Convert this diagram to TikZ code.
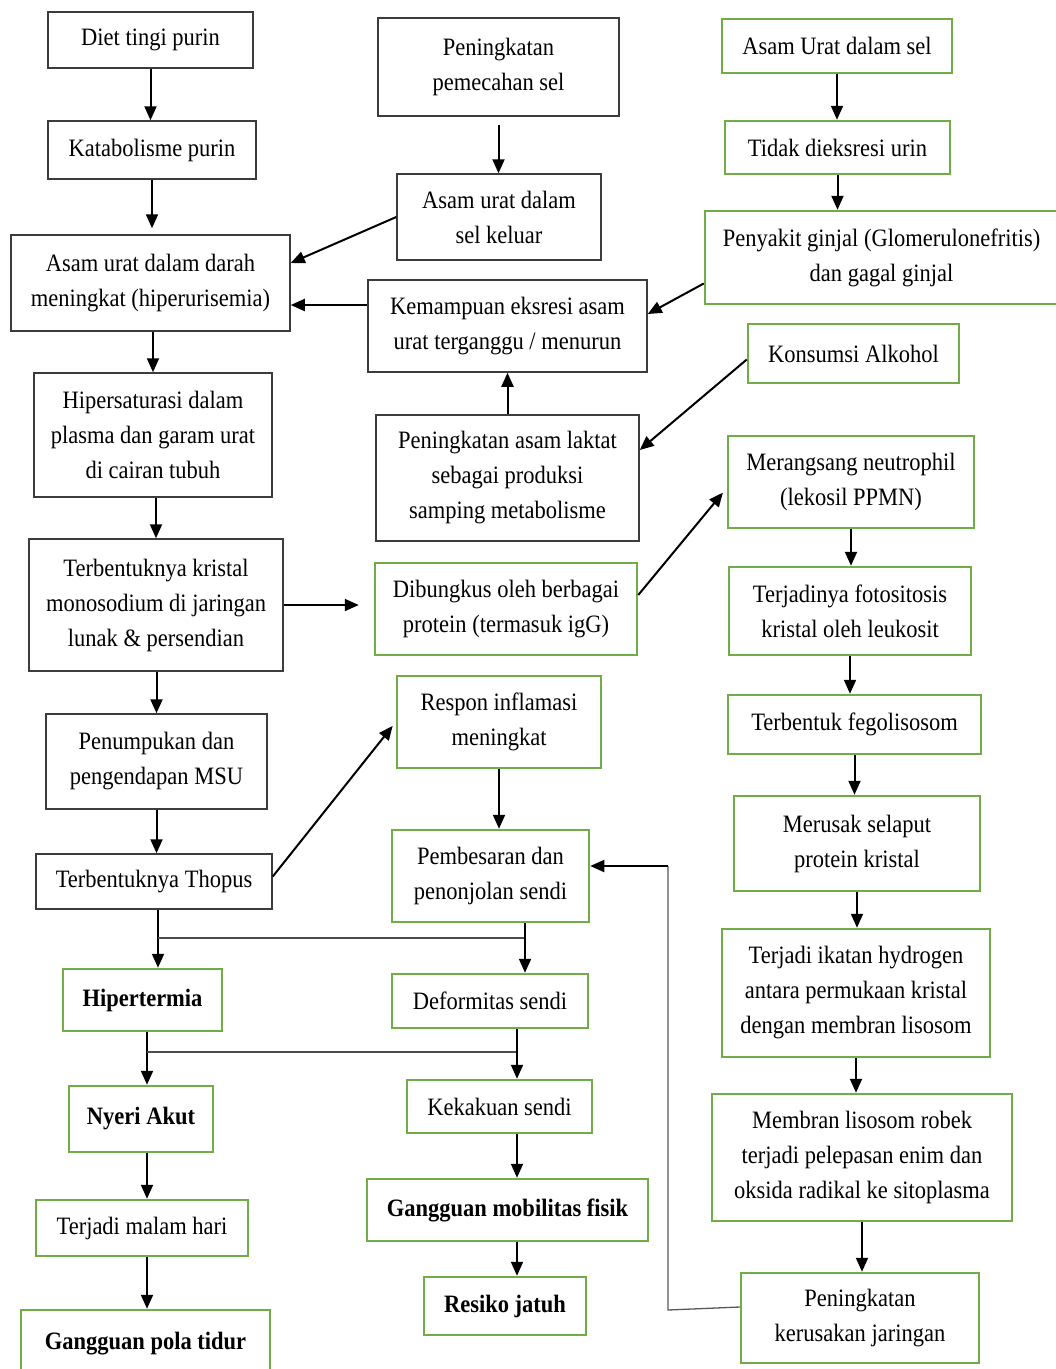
\documentclass[tikz,border=0pt]{standalone}
\usepackage{fontspec}
\setmainfont[FakeStretch=0.9]{Liberation Serif}
\usetikzlibrary{arrows.meta}
\definecolor{boxgreen}{RGB}{112,173,71}
\definecolor{boxgray}{RGB}{60,60,60}
\begin{document}
\begin{tikzpicture}[x=1pt,y=-1pt,
  font=\fontsize{25}{35}\selectfont,
  bbox/.style={draw=boxgray, line width=1.5pt, align=center, inner sep=0pt},
  gbox/.style={draw=boxgreen, line width=2.5pt, align=center, inner sep=0pt},
  arr/.style={-{Triangle[length=14pt,width=12pt]}, line width=2pt, black},
  link/.style={line width=2pt, draw=black!70},
  thinlink/.style={line width=1.3pt, draw=black!65}]
\useasboundingbox (0,0) rectangle (1056,1369);
\clip (0,0) rectangle (1056,1369);
% left column
\node[bbox, minimum width=205pt, minimum height=56pt] (diet) at (150.5,40) {Diet tingi purin};
\node[bbox, minimum width=208pt, minimum height=58pt] (katab) at (152,150) {Katabolisme purin};
\node[bbox, minimum width=279pt, minimum height=96pt] (darah) at (150.5,283) {Asam urat dalam darah\\meningkat (hiperurisemia)};
\node[bbox, minimum width=238pt, minimum height=124pt] (hiper) at (153,435) {Hipersaturasi dalam\\plasma dan garam urat\\di cairan tubuh};
\node[bbox, minimum width=254pt, minimum height=132pt] (kristal) at (156,605) {Terbentuknya kristal\\monosodium di jaringan\\lunak \& persendian};
\node[bbox, minimum width=221pt, minimum height=95pt] (penum) at (156.5,761.5) {Penumpukan dan\\pengendapan MSU};
\node[bbox, minimum width=236pt, minimum height=55pt] (thopus) at (154,881.5) {Terbentuknya Thopus};
\node[gbox, minimum width=159pt, minimum height=62pt] (hipert) at (142.5,1000) {\textbf{Hipertermia}};
\node[gbox, minimum width=144pt, minimum height=66pt] (nyeri) at (141,1119) {\textbf{Nyeri Akut}};
\node[gbox, minimum width=212pt, minimum height=56pt] (malam) at (142,1228) {Terjadi malam hari};
\node[gbox, minimum width=249pt, minimum height=68pt] (pola) at (145.5,1344) {\textbf{Gangguan pola tidur}};
% middle column
\node[bbox, minimum width=241pt, minimum height=98pt] (pecah) at (498.5,67) {Peningkatan\\pemecahan sel};
\node[bbox, minimum width=204pt, minimum height=86pt] (keluar) at (499,217) {Asam urat dalam\\sel keluar};
\node[bbox, minimum width=279pt, minimum height=92pt] (kemamp) at (507.5,326) {Kemampuan eksresi asam\\urat terganggu / menurun};
\node[bbox, minimum width=263pt, minimum height=126pt] (laktat) at (507.5,478) {Peningkatan asam laktat\\sebagai produksi\\samping metabolisme};
\node[gbox, minimum width=262pt, minimum height=92pt] (bungkus) at (506,609) {Dibungkus oleh berbagai\\protein (termasuk igG)};
\node[gbox, minimum width=204pt, minimum height=92pt] (respon) at (499,722) {Respon inflamasi\\meningkat};
\node[gbox, minimum width=197pt, minimum height=92pt] (besar) at (490.5,876) {Pembesaran dan\\penonjolan sendi};
\node[gbox, minimum width=196pt, minimum height=54pt] (deform) at (490,1001) {Deformitas sendi};
\node[gbox, minimum width=185pt, minimum height=53pt] (kaku) at (499.5,1106.5) {Kekakuan sendi};
\node[gbox, minimum width=281pt, minimum height=62pt] (mobil) at (507.5,1210) {\textbf{Gangguan mobilitas fisik}};
\node[gbox, minimum width=162pt, minimum height=58pt] (resiko) at (505,1306) {\textbf{Resiko jatuh}};
% right column
\node[gbox, minimum width=230pt, minimum height=54pt] (aus) at (837,46) {Asam Urat dalam sel};
\node[gbox, minimum width=225pt, minimum height=53pt] (tidak) at (837.5,147.5) {Tidak dieksresi urin};
\node[gbox, minimum width=353pt, minimum height=93pt] (ginjal) at (881.5,257.5) {Penyakit ginjal (Glomerulonefritis)\\dan gagal ginjal};
\node[gbox, minimum width=211pt, minimum height=59pt] (alkohol) at (853.5,353.5) {Konsumsi Alkohol};
\node[gbox, minimum width=246pt, minimum height=92pt] (neutro) at (851,482) {Merangsang neutrophil\\(lekosil PPMN)};
\node[gbox, minimum width=242pt, minimum height=88pt] (foto) at (850,611) {Terjadinya fotositosis\\kristal oleh leukosit};
\node[gbox, minimum width=253pt, minimum height=59pt] (fego) at (854.5,724.5) {Terbentuk fegolisosom};
\node[gbox, minimum width=246pt, minimum height=95pt] (merusak) at (857,843.5) {Merusak selaput\\protein kristal};
\node[gbox, minimum width=268pt, minimum height=128pt] (ikatan) at (856,993) {Terjadi ikatan hydrogen\\antara permukaan kristal\\dengan membran lisosom};
\node[gbox, minimum width=300pt, minimum height=127pt] (membran) at (862,1157.5) {Membran lisosom robek\\terjadi pelepasan enim dan\\oksida radikal ke sitoplasma};
\node[gbox, minimum width=238pt, minimum height=90pt] (kerusak) at (860,1318) {Peningkatan\\kerusakan jaringan};
% junction coordinates
\coordinate (j1) at (158,938);
\coordinate (j2) at (525,938);
\coordinate (j3) at (147,1052);
\coordinate (j4) at (517,1052);
\coordinate (r1) at (668,1310);
\coordinate (r2) at (668,866);
\coordinate (k1) at ([yshift=21pt]kemamp.west);
% left column arrows
\draw[arr] (diet.south) -- (diet.south |- katab.north);
\draw[arr, shorten >=6pt] (katab.south) -- (katab.south |- darah.north);
\draw[arr] (hiper.north |- darah.south) -- (hiper.north);
\draw[arr] (kristal.north |- hiper.south) -- (kristal.north);
\draw[arr] (kristal.south -| penum.north) -- (penum.north);
\draw[arr] (penum.south) -- (penum.south |- thopus.north);
\draw[arr] (thopus.south -| j1) -- (hipert.north -| j1);
\draw[link] (j1) -- (j2);
\draw[arr] (besar.south -| j2) -- (deform.north -| j2);
\draw[arr] (hipert.south -| j3) -- (nyeri.north -| j3);
\draw[link] (j3) -- (j4);
\draw[arr] (deform.south -| j4) -- (kaku.north -| j4);
\draw[arr] (nyeri.south -| j3) -- (malam.north -| j3);
\draw[arr] (malam.south -| j3) -- (pola.north -| j3);
\draw[arr] (kaku.south -| j4) -- (mobil.north -| j4);
\draw[arr] (mobil.south -| j4) -- (resiko.north -| j4);
% middle arrows
\draw[arr, shorten <=8pt] (pecah.south) -- (pecah.south |- keluar.north);
\draw[arr] (keluar.west) -- ([yshift=20pt]darah.east);
\draw[arr] (k1) -- (k1 -| darah.east);
\draw[arr] ([yshift=-26pt]ginjal.west) -- ([yshift=12pt]kemamp.east);
\draw[arr] (laktat.north) -- (laktat.north |- kemamp.south);
\draw[arr] ([yshift=-6pt]alkohol.west) -- ([yshift=28pt]laktat.east);
\draw[arr, shorten >=15pt] (kristal.east) -- (kristal.east -| bungkus.west);
\draw[arr, shorten >=6pt] ([yshift=14pt]bungkus.east) -- ([yshift=-6pt]neutro.west);
\draw[arr, shorten >=5pt] ([yshift=5pt]thopus.east) -- (respon.west);
\draw[arr] (respon.south) -- (respon.south |- besar.north);
% right column arrows
\draw[arr] (aus.south) -- (aus.south |- tidak.north);
\draw[arr] (tidak.south) -- (tidak.south |- ginjal.north);
\draw[arr] (neutro.south) -- (neutro.south |- foto.north);
\draw[arr] (foto.south) -- (foto.south |- fego.north);
\draw[arr] (fego.south) -- (fego.south |- merusak.north);
\draw[arr] (merusak.south) -- (merusak.south |- ikatan.north);
\draw[arr] (ikatan.south) -- (ikatan.south |- membran.north);
\draw[arr] (membran.south) -- (membran.south |- kerusak.north);
% feedback
\draw[thinlink] ([yshift=11pt]kerusak.west) -- (r1) -- (r2);
\draw[arr] (r2) -- (r2 -| besar.east);
\end{tikzpicture}
\end{document}
